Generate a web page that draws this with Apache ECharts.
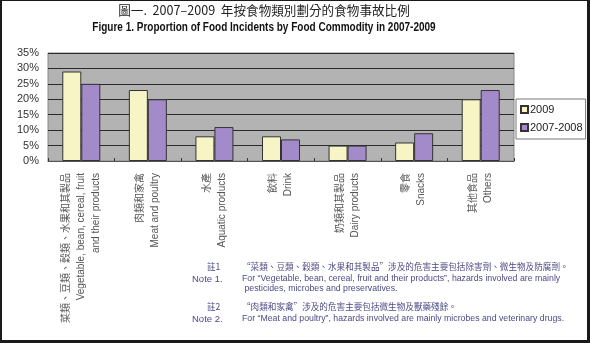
<!DOCTYPE html>
<html><head><meta charset="utf-8">
<script src="https://cdn.jsdelivr.net/npm/echarts@6/dist/echarts.min.js"></script>
<style>
html,body{margin:0;padding:0;background:#fff;}
#wrap{position:relative;width:590px;height:343px;box-sizing:border-box;border-style:solid;border-color:#1a1a1a;border-width:1px 3px 3px 2px;background:#fff;}
#c{position:absolute;left:-2px;top:-1px;width:590px;height:343px;}
</style></head>
<body><div id="wrap"><div id="c"></div></div>
<script>
const categories = [
  "菜類、豆類、穀類、水果和其製品\nVegetable, bean, cereal, fruit\nand their products",
  "肉類和家禽\nMeat and poultry",
  "水產\nAquatic products",
  "飲料\nDrink",
  "奶類和其製品\nDairy products",
  "零食\nSnacks",
  "其他食品\nOthers"
];
const seriesNames = ["2009", "2007-2008"];
const values2009 = [29, 23, 8, 8, 5, 6, 20];
const values20072008 = [25, 20, 11, 7, 5, 9, 23];
const yTicks = [0, 5, 10, 15, 20, 25, 30, 35];
const titleZh = "圖一.  2007–2009  年按食物類別劃分的食物事故比例";
const titleEn = "Figure 1. Proportion of Food Incidents by Food Commodity in 2007-2009";
const notes = [
  ["註1", "“菜類、豆類、穀類、水果和其製品”涉及的危害主要包括除害劑、微生物及防腐劑。"],
  ["Note 1.", "For “Vegetable, bean, cereal, fruit and their products”, hazards involved are mainly\n pesticides, microbes and preservatives."],
  ["註2", "“肉類和家禽”涉及的危害主要包括微生物及獸藥殘餘。"],
  ["Note 2.", "For “Meat and poultry”, hazards involved are mainly microbes and veterinary drugs."]
];

const chart = echarts.init(document.getElementById('c'), null, {renderer:'canvas'});
const noteColor = '#4b4a86';
const noteY = [267, 279, 307, 319];
const g = [];
notes.forEach((n, i) => {
  const zh = i % 2 === 0;
  g.push({type:'text', x: zh ? 207 : 192, y: noteY[i] - 5,
    style:{text:n[0], fill:noteColor, font: zh ? '8.6px "Noto Sans CJK TC"' : '9.5px "Liberation Sans"'}});
  g.push({type:'text', x: 242, y: noteY[i] - 5, scaleX: zh ? 1 : 0.92,
    style:{text:n[1], fill:noteColor, lineHeight: 9.5,
      font: zh ? '8.6px "Noto Sans CJK TC"' : '9.5px "Liberation Sans"'}});
});
g.push({type:'text', x:264, y:4, style:{text:titleZh, fill:'#222', align:'center', font:'12.6px "Noto Sans CJK TC"'}});
g.push({type:'text', x:264, y:21, scaleX:0.8, style:{text:titleEn, fill:'#111', align:'center', font:'bold 12.5px "Liberation Sans"'}});

chart.setOption({
  animation:false,
  backgroundColor:'transparent',
  grid:{left:48, right:76, top:53, bottom:182, show:true, backgroundColor:'#b3b3b3', borderColor:'#888', borderWidth:1},
  legend:{
    orient:'vertical', left:516, top:99,
    backgroundColor:'#fff', borderColor:'#777', borderWidth:1, padding:[5,3,6,4],
    itemWidth:7, itemHeight:7, itemGap:7, icon:'rect',
    textStyle:{fontFamily:'"Liberation Sans"', fontSize:11, color:'#222', padding:[0,0,0,-3]},
    data:seriesNames
  },
  xAxis:{
    type:'category', data:categories,
    axisLine:{lineStyle:{color:'#555'}},
    axisTick:{show:true, inside:true, length:3, lineStyle:{color:'#333'}},
    axisLabel:{rotate:90, interval:0, margin:12, color:'#555', lineHeight:15,
      fontFamily:'"Liberation Sans", "Noto Sans CJK TC"', fontSize:10}
  },
  yAxis:{
    type:'value', min:0, max:35, interval:5,
    axisLine:{show:false}, axisTick:{show:false},
    axisLabel:{formatter: v => yTicks.includes(v) ? v + '%' : '', color:'#333', fontFamily:'"Liberation Sans"', fontSize:11, margin:9},
    splitLine:{lineStyle:{color:'#2a2a2a', width:1}}
  },
  series:[
    {name:seriesNames[0], type:'bar', data:values2009, barWidth:19, barGap:'0%',
      itemStyle:{color:'#f7f5c6', borderColor:'#333', borderWidth:1}},
    {name:seriesNames[1], type:'bar', data:values20072008, barWidth:19,
      itemStyle:{color:'#a38bc9', borderColor:'#333', borderWidth:1}}
  ],
  graphic: g
});
</script></body></html>
